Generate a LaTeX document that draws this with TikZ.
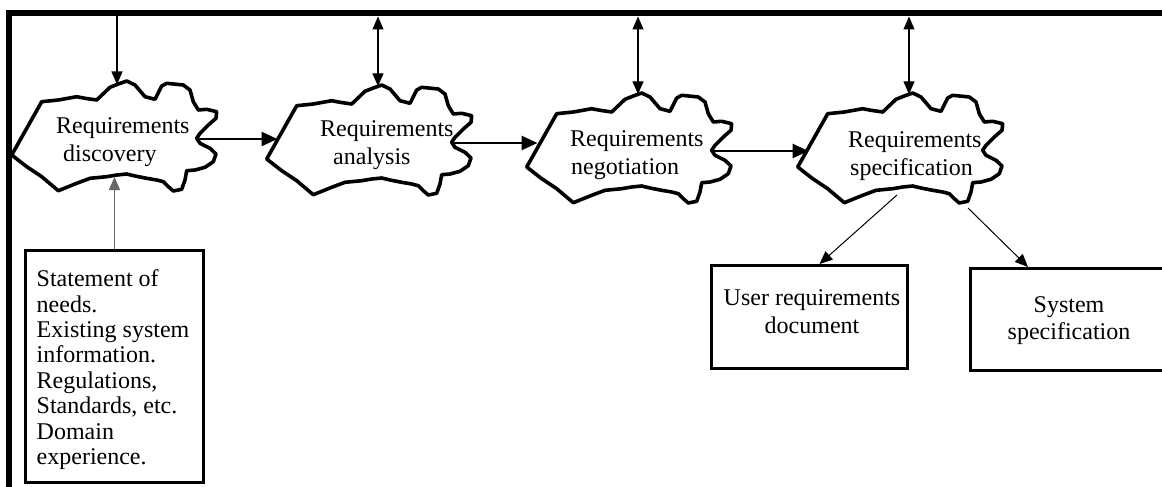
\documentclass[tikz,border=0pt]{standalone}
\usepackage{fontspec}
\setmainfont{Liberation Serif}
\usetikzlibrary{arrows.meta,calc}
\tikzset{
  cloudline/.style={line width=3.6pt, line join=round},
  frameline/.style={line width=6pt, line join=miter},
  boxline/.style={draw, line width=3pt, rectangle, inner sep=0pt},
  flow/.style={line width=2.6pt, -{Triangle[length=16pt,width=14pt]}},
  thin arrow/.style={line width=1.3pt, -{Triangle[length=13pt,width=11pt]}},
  both arrow/.style={line width=1.3pt, {Triangle[length=13pt,width=11pt]}-{Triangle[length=13pt,width=11pt]}},
  txt/.style={inner sep=0pt, font=\fontsize{24}{28}\selectfont},
  cloudpic/.pic={
    \draw[cloudline] (11.7,155) -- (41.7,101.7) -- (58.3,100) -- (76.7,96.7) -- (85,98.3) -- (96.7,100)
      -- (110,87.3) -- (118.3,84) -- (126.7,81) -- (135,85) -- (145,96.7) -- (155,99.3) -- (161.7,86)
      -- (166.7,83.3) -- (183.3,85) -- (190,90) -- (193.3,101.7) -- (198.3,110) -- (206.7,109.3)
      -- (216.7,111.7) -- (216,118.3) -- (208.3,125) -- (200,133.3) -- (196.7,138.3) -- (200,143.3)
      -- (210,148.3) -- (216,154) -- (213.3,161.7) -- (205,167.3) -- (195,170) -- (186.7,170.7)
      -- (185,180) -- (181.7,189.3) -- (173.3,191) -- (168.3,186.7) -- (163.3,181.7) -- (156.7,180)
      -- (146.7,178.3) -- (135,176) -- (126.7,174) -- (116.7,175) -- (106.7,176.7) -- (90,178.3)
      -- (76.7,183.3) -- (58.3,190.7) -- (41.7,176.7) -- (26.7,166.7) -- cycle;
    \coordinate (-in) at (22.5,136);
    \coordinate (-out) at (199,139);
    \coordinate (-top) at (123,82.3);
    \coordinate (-topl) at (117,84.5);
    \coordinate (-bot) at (112,177);
    \coordinate (-b1) at (111,183);
    \coordinate (-b2) at (182,196);
  }
}
\begin{document}
\begin{tikzpicture}[x=1pt,y=-1pt]
\useasboundingbox (0,0) rectangle (1162,487);
\clip (0,0) rectangle (1162,487);
\fill[white] (0,0) rectangle (1162,487);

% frame
\coordinate (fbl) at (9,490);
\coordinate (ftl) at (9,13);
\coordinate (ftr) at (1166,13);
\draw[frameline] (fbl) -- (ftl) -- (ftr);
\coordinate (ftop) at (0,16.5);

% clouds
\pic (c1) at (0,0) {cloudpic};
\pic (c2) at (255,4) {cloudpic};
\pic (c3) at (515,12) {cloudpic};
\pic (c4) at (786,12) {cloudpic};

% cloud texts
\node[txt, align=left, anchor=north west] (t1) at (56,117) {Requirements\\\hspace*{7pt}discovery};
\node[txt, align=left, anchor=north west] (t2) at (320,120) {Requirements\\\hspace*{13pt}analysis};
\node[txt, align=left, anchor=north west] (t3) at (570,130) {Requirements\\\hspace*{1pt}negotiation};
\node[txt, align=left, anchor=north west] (t4) at (848,131.5) {Requirements\\\hspace*{2pt}specification};

% boxes
\node[boxline, anchor=north west, minimum width=178pt, minimum height=232pt] (needs) at (24,249) {};
\node[txt, font=\fontsize{24}{25.4}\selectfont, align=left, anchor=north west] (needstext) at (36.5,269.5)
  {Statement of\\needs.\\Existing system\\information.\\Regulations,\\Standards, etc.\\Domain\\experience.};
\node[boxline, anchor=north west, minimum width=196pt, minimum height=103pt] (udoc) at (710,264) {};
\node[txt, font=\fontsize{24}{28.3}\selectfont, align=center, anchor=north] (udoctext) at (812,289.5)
  {User requirements\\document};
\node[boxline, anchor=north west, minimum width=220pt, minimum height=102pt] (sspec) at (969,267) {};
\node[txt, font=\fontsize{24}{26.6}\selectfont, align=center, anchor=north] (sspectext) at (1069,296.5)
  {System\\specification};

% flow arrows between clouds
\draw[flow] (c1-out) -- (c1-out -| c2-in);
\draw[flow] (c2-out) -- (c2-out -| c3-in);
\draw[flow] (c3-out) -- (c3-out -| c4-in);

% arrows from top frame
\draw[thin arrow] (c1-topl |- ftop) -- (c1-topl);
\draw[both arrow] (c2-top |- ftop) -- (c2-top);
\draw[both arrow] (c3-top |- ftop) -- (c3-top);
\draw[both arrow] (c4-top |- ftop) -- (c4-top);

% input to discovery
\draw[thin arrow, draw=black!60] (needs.north) -- (needs.north |- c1-bot);

% outputs of specification
\coordinate (u-tip) at ($(udoc.north)+(10,0)$);
\coordinate (s-tip) at ($(sspec.north west)+(59,0)$);
\draw[line width=1pt, -{Triangle[length=13pt,width=11pt]}] (c4-b1) -- (u-tip);
\draw[line width=1pt, -{Triangle[length=13pt,width=11pt]}] (c4-b2) -- (s-tip);
\end{tikzpicture}
\end{document}
